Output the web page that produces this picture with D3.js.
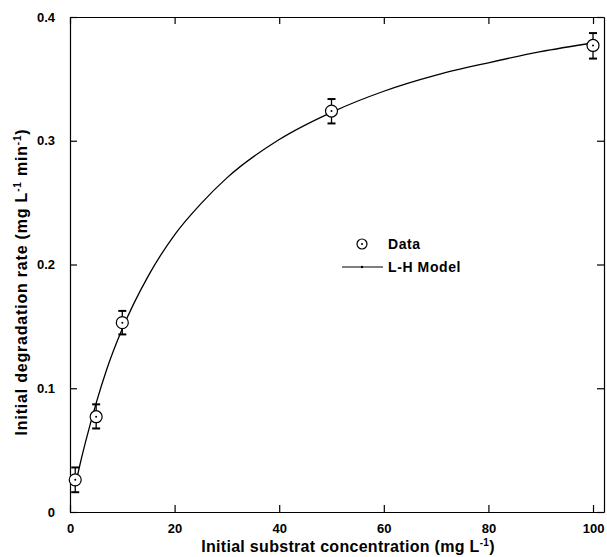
<!DOCTYPE html>
<html>
<head>
<meta charset="utf-8">
<script src="https://cdn.jsdelivr.net/npm/d3@7"></script>
<style>
  body { margin: 0; background: #fff; }
  text { font-family: "Liberation Sans", Arial, sans-serif; font-weight: bold; fill: #000; }
</style>
</head>
<body>
<div id="chart"></div>
<script>
// measured points
var concX = [1, 5, 10, 50, 100];
var rateY = [0.026, 0.077, 0.153, 0.324, 0.377];
var errUp = [0.0100, 0.0100, 0.0095, 0.0097, 0.0100];
var errDown = [0.0100, 0.0095, 0.0095, 0.0100, 0.0106];

// L-H model curve
var modelX = [1, 2, 3, 5, 7, 10, 15, 20, 25, 30, 40, 50, 60, 70, 80, 90, 100];
var modelY = [0.021, 0.040, 0.057, 0.088, 0.115, 0.148, 0.191, 0.224, 0.249, 0.270, 0.301, 0.323, 0.340, 0.353, 0.363, 0.372, 0.379];

var xTicks = [0, 20, 40, 60, 80, 100];
var yTicks = [0, 0.1, 0.2, 0.3, 0.4];

var width = 607, height = 557;
var margin = { top: 17, right: 3, bottom: 45, left: 70 };
var plotW = width - margin.left - margin.right,
  plotH = height - margin.top - margin.bottom;

var svg = d3.select("#chart")
  .append("svg")
  .attr("width", width)
  .attr("height", height);

var g = svg.append("g")
  .attr("transform", "translate(" + margin.left + "," + margin.top + ")");

var x = d3.scaleLinear().domain([0, 102.1]).range([0, plotW]);
var y = d3.scaleLinear().domain([0, 0.4]).range([plotH, 0]);

// frame with inward ticks on every side
function styleAxis(sel, showLabels) {
  sel.select(".domain").attr("stroke", "#000").attr("stroke-width", 1.2);
  sel.selectAll(".tick line").attr("stroke", "#000").attr("stroke-width", 1.2);
  sel.selectAll(".tick text")
    .attr("font-size", "13px")
    .style("display", showLabels ? null : "none");
}

g.append("g")
  .attr("transform", "translate(0," + plotH + ")")
  .call(d3.axisBottom(x).tickValues(xTicks).tickSizeInner(-7).tickSizeOuter(0).tickPadding(12).tickFormat(d3.format("d")))
  .call(styleAxis, true);

g.append("g")
  .call(d3.axisTop(x).tickValues(xTicks).tickSizeInner(-7).tickSizeOuter(0))
  .call(styleAxis, false);

g.append("g")
  .call(d3.axisLeft(y).tickValues(yTicks).tickSizeInner(-7).tickSizeOuter(0).tickPadding(15)
    .tickFormat(function(d) { return d === 0 ? "0" : d3.format(".1f")(d); }))
  .call(styleAxis, true);

g.append("g")
  .attr("transform", "translate(" + plotW + ",0)")
  .call(d3.axisRight(y).tickValues(yTicks).tickSizeInner(-7).tickSizeOuter(0))
  .call(styleAxis, false);

// model curve
var line = d3.line()
  .x(function(d, i) { return x(modelX[i]); })
  .y(function(d) { return y(d); })
  .curve(d3.curveMonotoneX);

g.append("path")
  .datum(modelY)
  .attr("fill", "none")
  .attr("stroke", "#000")
  .attr("stroke-width", 1.3)
  .attr("d", line);

// error bars
var pts = concX.map(function(c, i) {
  return { x: c, y: rateY[i], hi: rateY[i] + errUp[i], lo: rateY[i] - errDown[i] };
});

var eb = g.append("g").selectAll("g")
  .data(pts)
  .enter().append("g");

eb.append("line")
  .attr("x1", function(d) { return x(d.x); })
  .attr("x2", function(d) { return x(d.x); })
  .attr("y1", function(d) { return y(d.hi); })
  .attr("y2", function(d) { return y(d.lo); })
  .attr("stroke", "#000").attr("stroke-width", 1.3);

["hi", "lo"].forEach(function(k) {
  eb.append("line")
    .attr("x1", function(d) { return x(d.x) - 4; })
    .attr("x2", function(d) { return x(d.x) + 4; })
    .attr("y1", function(d) { return y(d[k]); })
    .attr("y2", function(d) { return y(d[k]); })
    .attr("stroke", "#000").attr("stroke-width", 2);
});

eb.append("circle")
  .attr("cx", function(d) { return x(d.x); })
  .attr("cy", function(d) { return y(d.y); })
  .attr("r", 6)
  .attr("fill", "#fff")
  .attr("stroke", "#000")
  .attr("stroke-width", 1.2);

eb.append("circle")
  .attr("cx", function(d) { return x(d.x); })
  .attr("cy", function(d) { return y(d.y); })
  .attr("r", 1)
  .attr("fill", "#000");

// legend
var leg = svg.append("g");
leg.append("circle").attr("cx", 362).attr("cy", 244).attr("r", 5)
  .attr("fill", "#fff").attr("stroke", "#000").attr("stroke-width", 1.2);
leg.append("circle").attr("cx", 362).attr("cy", 244).attr("r", 1).attr("fill", "#000");
leg.append("text").attr("x", 388).attr("y", 249).attr("font-size", "14px")
  .attr("letter-spacing", "0.6px").text("Data");
leg.append("line").attr("x1", 342).attr("x2", 383).attr("y1", 267).attr("y2", 267)
  .attr("stroke", "#000").attr("stroke-width", 1);
leg.append("circle").attr("cx", 362).attr("cy", 267).attr("r", 1.2).attr("fill", "#000");
leg.append("text").attr("x", 388).attr("y", 272).attr("font-size", "14px")
  .attr("letter-spacing", "0.6px").text("L-H Model");

// axis titles
var xt = svg.append("text")
  .attr("x", 348)
  .attr("y", 552)
  .attr("text-anchor", "middle")
  .attr("font-size", "16px")
  .attr("letter-spacing", "0.3px");
xt.append("tspan").text("Initial substrat concentration (mg L");
xt.append("tspan").attr("dy", -6).attr("font-size", "10px").text("-1");
xt.append("tspan").attr("dy", 6).text(")");

var yt = svg.append("text")
  .attr("transform", "translate(27,282) rotate(-90)")
  .attr("text-anchor", "middle")
  .attr("font-size", "16px")
  .attr("letter-spacing", "0.8px");
yt.append("tspan").text("Initial degradation rate (mg L");
yt.append("tspan").attr("dy", -6).attr("font-size", "10px").text("-1");
yt.append("tspan").attr("dy", 6).text(" min");
yt.append("tspan").attr("dy", -6).attr("font-size", "10px").text("-1");
yt.append("tspan").attr("dy", 6).text(")");
</script>
</body>
</html>
